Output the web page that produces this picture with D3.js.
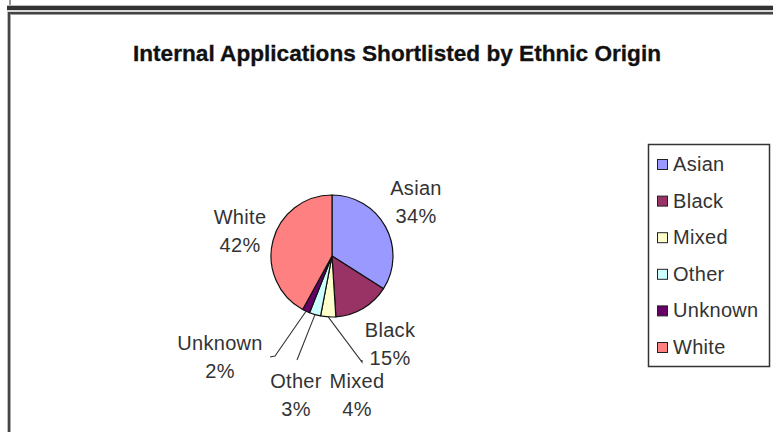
<!DOCTYPE html>
<html>
<head>
<meta charset="utf-8">
<script src="https://cdn.jsdelivr.net/npm/d3@7"></script>
<style>
  html, body { margin: 0; padding: 0; background: #fff; }
  svg { display: block; }
</style>
</head>
<body>
<svg id="chart" width="773" height="432"></svg>
<script>
// ---- data ----
const categories = ["Asian", "Black", "Mixed", "Other", "Unknown", "White"];
const values = [34, 15, 4, 3, 2, 42];
const percentLabels = ["34%", "15%", "4%", "3%", "2%", "42%"];
const colors = ["#9999FF", "#993366", "#FFFFCC", "#CCFFFF", "#660066", "#FF8080"];
const title = "Internal Applications Shortlisted by Ethnic Origin";

// ---- layout (not data) ----
const W = 773, H = 432;
const cx = 332, cy = 256, R = 61;
const labelLayout = {
  Asian:   { x: 416, y: 195, leader: null },
  Black:   { x: 390, y: 337, leader: null },
  Mixed:   { x: 357, y: 388, leader: [[362, 362], [362, 360]] },
  Other:   { x: 296, y: 388, leader: [[297, 360]] },
  Unknown: { x: 220, y: 350, leader: [[275, 356], [270, 357]] },
  White:   { x: 240, y: 224, leader: null }
};
const FONT = "Liberation Sans, Arial, sans-serif";

const svg = d3.select("#chart");
svg.append("rect").attr("width", W).attr("height", H).attr("fill", "#fff");

// ---- window frame ----
const frame = svg.append("g");
frame.append("rect").attr("x", 9).attr("y", 0).attr("width", 2).attr("height", 5).attr("fill", "#9a9a9a");
frame.append("rect").attr("x", 7).attr("y", 5).attr("width", W - 7).attr("height", 1).attr("fill", "#bdbdbd");
frame.append("rect").attr("x", 7).attr("y", 6).attr("width", W - 7).attr("height", 4).attr("fill", "#333");
frame.append("rect").attr("x", 7).attr("y", 10).attr("width", W - 7).attr("height", 2).attr("fill", "#d8d8d8");
frame.append("rect").attr("x", 7).attr("y", 12).attr("width", W - 7).attr("height", 2).attr("fill", "#444");
frame.append("rect").attr("x", 7).attr("y", 14).attr("width", W - 7).attr("height", 1).attr("fill", "#9a9a9a");
frame.append("rect").attr("x", 7).attr("y", 12).attr("width", 1).attr("height", H - 12).attr("fill", "#bdbdbd");
frame.append("rect").attr("x", 8).attr("y", 12).attr("width", 2).attr("height", H - 12).attr("fill", "#444");
frame.append("rect").attr("x", 10).attr("y", 14).attr("width", 1).attr("height", H - 14).attr("fill", "#aaa");

// ---- title ----
svg.append("text")
  .attr("x", 397).attr("y", 61)
  .attr("text-anchor", "middle")
  .attr("font-family", FONT)
  .attr("font-weight", "bold")
  .attr("font-size", 22)
  .attr("textLength", 528)
  .attr("lengthAdjust", "spacingAndGlyphs")
  .attr("fill", "#111")
  .attr("stroke", "#111").attr("stroke-width", 0.3)
  .text(title);

// ---- pie ----
const data = categories.map((c, i) => ({ cat: c, value: values[i], pct: percentLabels[i], color: colors[i] }));
const pie = d3.pie().sort(null).value(d => d.value).startAngle(0).endAngle(2 * Math.PI);
const arcs = pie(data);
const arc = d3.arc().innerRadius(0).outerRadius(R);

const g = svg.append("g").attr("transform", `translate(${cx},${cy})`);
g.selectAll("path").data(arcs).join("path")
  .attr("d", arc)
  .attr("fill", d => d.data.color)
  .attr("stroke", "#111")
  .attr("stroke-width", 1.2)
  .attr("stroke-linejoin", "round");

// ---- leader lines ----
arcs.forEach(a => {
  const L = labelLayout[a.data.cat];
  if (!L.leader) return;
  const mid = (a.startAngle + a.endAngle) / 2;
  const p = d3.pointRadial(mid, R);
  const pts = [[cx + p[0], cy + p[1]]].concat(L.leader);
  svg.append("path")
    .attr("d", d3.line()(pts))
    .attr("fill", "none")
    .attr("stroke", "#333")
    .attr("stroke-width", 1.1);
});

// ---- data labels ----
const lab = svg.append("g")
  .attr("font-family", FONT)
  .attr("font-size", 20)
  .attr("letter-spacing", 0.3)
  .attr("fill", "#333")
  .attr("text-anchor", "middle");
arcs.forEach(a => {
  const L = labelLayout[a.data.cat];
  lab.append("text").attr("x", L.x).attr("y", L.y).text(a.data.cat);
  lab.append("text").attr("x", L.x).attr("y", L.y + 28).text(a.data.pct);
});

// ---- legend ----
const legend = svg.append("g");
legend.append("rect")
  .attr("x", 648.5).attr("y", 144.5).attr("width", 121).attr("height", 222)
  .attr("fill", "#fff").attr("stroke", "#333").attr("stroke-width", 1.5);
const legY = d3.scalePoint().domain(categories).range([171, 354]);
categories.forEach((c, i) => {
  const y = legY(c);
  legend.append("rect")
    .attr("x", 657.5).attr("y", y - 11.5).attr("width", 10).attr("height", 10)
    .attr("fill", colors[i]).attr("stroke", "#222").attr("stroke-width", 1);
  legend.append("text")
    .attr("x", 673).attr("y", y)
    .attr("font-family", FONT)
    .attr("font-size", 20)
    .attr("letter-spacing", 0.3)
    .attr("fill", "#333")
    .text(c);
});
</script>
</body>
</html>
